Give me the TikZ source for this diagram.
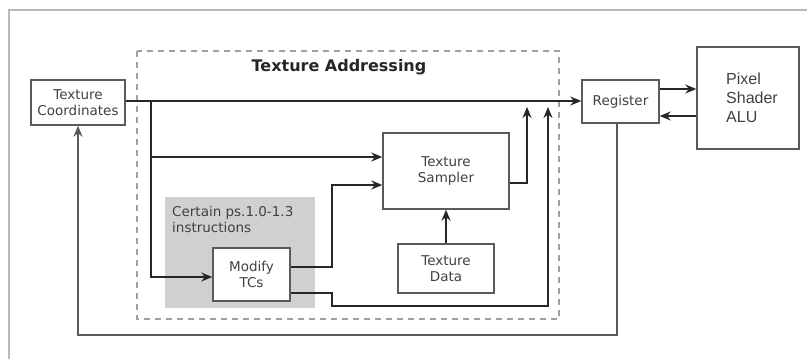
\documentclass[tikz,border=0pt]{standalone}
\usepackage{fontspec}
\setmainfont{DejaVu Sans}
\newfontfamily\alufont{Liberation Sans}
\usetikzlibrary{arrows.meta,calc}
\definecolor{boxc}{RGB}{90,90,90}
\definecolor{txtc}{RGB}{65,65,65}
\definecolor{arrc}{RGB}{38,38,38}
\definecolor{dashc}{RGB}{160,160,160}
\definecolor{grayfill}{RGB}{208,208,208}
\definecolor{framec}{RGB}{185,185,185}
\tikzset{
  box/.style={draw=boxc, line width=1.4pt, fill=white, inner sep=0pt, align=center, text=txtc, font=\fontsize{13.5}{16.5}\selectfont},
  arr/.style={draw=arrc, line width=2.6pt, -{Stealth[length=11pt,width=9pt]}},
  thinarr/.style={draw=arrc, line width=1.6pt, -{Stealth[length=11pt,width=9pt]}},
}
\begin{document}
\begin{tikzpicture}[x=1pt,y=-1pt]
\useasboundingbox (0,0) rectangle (807,359);
% outer frame
\draw[framec, line width=2pt] (9,359) -- (9,10) -- (807,10);
% dashed texture addressing region
\draw[dashc, line width=1.3pt, dash pattern=on 6pt off 5pt] (137,51) rectangle (559,319);
\node[font=\bfseries\fontsize{16}{19}\selectfont, text=arrc] (title) at (339,67) {Texture Addressing};
% gray instruction region
\fill[grayfill] (165,197) rectangle (315,308);
\node[anchor=north west, align=left, text=txtc, font=\fontsize{13.5}{16}\selectfont, inner sep=0pt] (cert) at (172,206) {Certain ps.1.0-1.3\\instructions};
% nodes
\node[box, minimum width=94pt, minimum height=45pt] (tc) at (78,102.5) {Texture\\Coordinates};
\node[box, minimum width=77pt, minimum height=43pt] (reg) at (620.5,101.5) {Register};
\node[box, minimum width=102pt, minimum height=102pt] (alu) at (748,98) {};
\node[anchor=west, align=left, text=txtc, font=\alufont\fontsize{16}{19}\selectfont, inner sep=0pt] (alutext) at (726,98) {Pixel\\Shader\\ALU};
\node[box, minimum width=126pt, minimum height=76pt] (samp) at (446,171) {Texture\\Sampler};
\node[box, minimum width=96pt, minimum height=49pt] (td) at (446,268.5) {Texture\\Data};
\node[box, minimum width=77pt, minimum height=53pt] (mod) at (251.5,274.5) {Modify\\TCs};
% helper coordinates
\coordinate (mainy) at (0,101);
\coordinate (br) at (151,101);
\coordinate (br2) at (151,157);
\coordinate (m1) at (290,267);
\coordinate (k1) at (332,185);
\coordinate (m2) at (290,293);
\coordinate (k2) at (332,306);
\coordinate (k3) at (548,306);
\coordinate (s1) at (527,183);
\coordinate (tipy) at (0,107);
\coordinate (y89) at (0,89);
\coordinate (y116) at (0,116);
\coordinate (fb) at (617,335);
\coordinate (modin) at (0,277);
% connectors
\draw[arr] (tc.east |- mainy) -- (reg.west |- mainy);
\draw[arr] (br) |- (mod.west |- modin);
\draw[arr] (br2) -- (br2 -| samp.west);
\draw[arr] (mod.east |- m1) -| (k1) -- (k1 -| samp.west);
\draw[arr] (mod.east |- m2) -| (k2) -- (k3) -- (k3 |- tipy);
\draw[arr] (samp.east |- s1) -- (s1) -- (s1 |- tipy);
\draw[arr] (td.north) -- (samp.south);
\draw[thinarr] (reg.east |- y89) -- (alu.west |- y89);
\draw[thinarr] (alu.west |- y116) -- (reg.east |- y116);
\draw[thinarr, draw=boxc] (reg.south -| fb) -- (fb) -- (fb -| tc.south) -- (tc.south);
\end{tikzpicture}
\end{document}
